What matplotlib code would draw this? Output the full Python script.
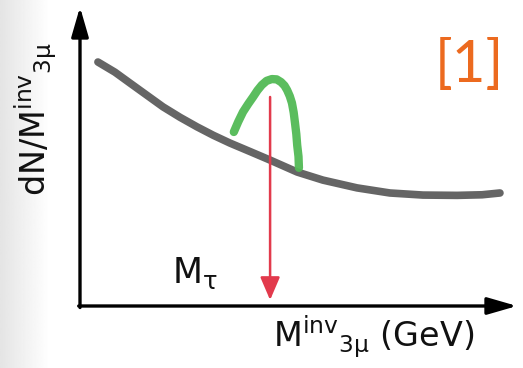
import numpy as np
import matplotlib
matplotlib.use('Agg')
import matplotlib.pyplot as plt

plt.rcParams['font.family'] = ['DejaVu Sans']
plt.rcParams['mathtext.fontset'] = 'custom'
plt.rcParams['mathtext.rm'] = 'DejaVu Sans'
plt.rcParams['mathtext.it'] = 'DejaVu Sans:italic'

# smooth falling background spectrum (arbitrary units)
bkg_mass = [0.41, 0.80, 1.14, 1.52, 1.90, 2.29, 2.68, 3.05, 3.43, 3.90, 4.35, 4.66,
            4.97, 5.56, 6.34, 7.09, 7.85, 8.63, 9.20, 9.61]
bkg_counts = [8.16, 7.82, 7.46, 7.06, 6.66, 6.31, 5.99, 5.71, 5.45, 5.16, 4.88, 4.68,
              4.48, 4.21, 3.95, 3.78, 3.71, 3.70, 3.72, 3.78]

# signal peak on top of the background
sig_mass = [3.52, 3.62, 3.73, 3.85, 3.96, 4.06, 4.16, 4.27, 4.39, 4.50, 4.60, 4.68,
            4.74, 4.80, 4.85, 4.89, 4.92, 4.95, 4.97, 5.00, 5.01]
sig_counts = [5.82, 6.16, 6.49, 6.76, 6.99, 7.21, 7.39, 7.53, 7.59, 7.58, 7.49, 7.37,
              7.22, 7.02, 6.79, 6.47, 6.12, 5.75, 5.38, 5.00, 4.62]

# tau mass marker
m_tau = 4.35
arrow_top = 6.99
arrow_bottom = 0.2

W, H = 523, 368
fig = plt.figure(figsize=(W / 100, H / 100), dpi=100)

# soft grey shade on the left edge
shade = fig.add_axes([0, 0, 50 / W, 1])
grad = np.linspace(0.87, 1.0, 64)[None, :] ** 0.8
shade.imshow(grad, aspect='auto', cmap='gray', vmin=0, vmax=1, extent=[0, 1, 0, 1])
shade.axis('off')

ax = fig.add_axes([80 / W, 62 / H, 437 / W, 299 / H])
ax.set_xlim(0, 10)
ax.set_ylim(0, 10)
ax.axis('off')
ax.patch.set_alpha(0)

# axes drawn as arrows
arrow_kw = dict(arrowstyle='-|>,head_length=0.9,head_width=0.26', lw=2.4,
                color='black', shrinkA=0, shrinkB=0, mutation_scale=20)
ax.annotate('', xy=(0, 1), xytext=(0, -0.005), xycoords='axes fraction',
            arrowprops=arrow_kw)
ax.annotate('', xy=(1, 0), xytext=(-0.003, 0), xycoords='axes fraction',
            arrowprops=arrow_kw)

ax.plot(bkg_mass, bkg_counts, color='#505050', lw=5.5, alpha=0.88,
        solid_capstyle='round', solid_joinstyle='round')
ax.plot(sig_mass, sig_counts, color='#52ba55', lw=6, alpha=0.95,
        solid_capstyle='round', solid_joinstyle='round')

ax.annotate('', xy=(m_tau, arrow_bottom), xytext=(m_tau, arrow_top),
            arrowprops=dict(arrowstyle='-|>,head_length=0.7,head_width=0.3',
                            lw=1.8, color='#e23a4c', shrinkA=0, shrinkB=0,
                            mutation_scale=20))

fig.text(36 / W, 1 - 119 / H, r'dN/M$^{\mathrm{inv}}{}_{\mathrm{3μ}}$',
         rotation=90, ha='center', va='center', fontsize=24, color='#111111')
fig.text(273 / W, 1 - 347 / H, r'M$^{\mathrm{inv}}{}_{\mathrm{3μ}}$ (GeV)',
         ha='left', va='baseline', fontsize=24, color='#111111')
fig.text(172 / W, 1 - 283 / H, r'M$_{\mathrm{τ}}$',
         ha='left', va='baseline', fontsize=25, color='#111111')
fig.text(469 / W, 1 - 66 / H, '[1]', ha='center', va='center',
         fontsize=42, color='#ec6a1f', family='Lato')

fig.savefig('out.png', dpi=100)
